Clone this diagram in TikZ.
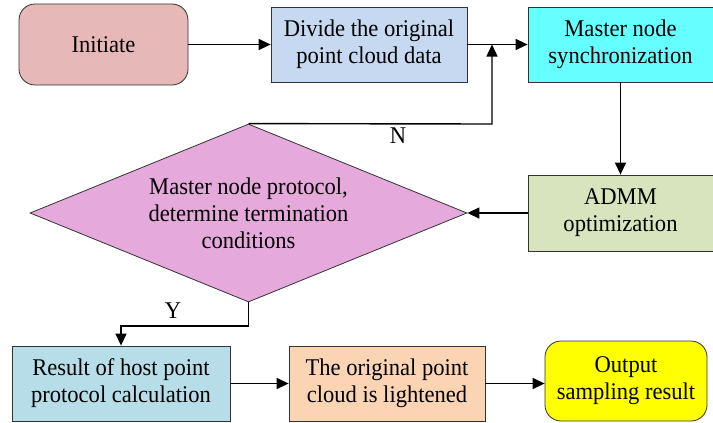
\documentclass[tikz,border=0pt]{standalone}
\usepackage{fontspec}
\setmainfont{Liberation Serif}
\newfontfamily\flowfont[FakeStretch=0.94]{Liberation Serif}
\usetikzlibrary{arrows.meta,shapes.geometric}
\definecolor{initc}{HTML}{E6B9B8}
\definecolor{divc}{HTML}{C6D9F0}
\definecolor{syncc}{HTML}{66FFFF}
\definecolor{admmc}{HTML}{D7E4BD}
\definecolor{diac}{HTML}{E6A9DC}
\definecolor{resc}{HTML}{B7DEE8}
\definecolor{orgc}{HTML}{FBD4B4}
\definecolor{outc}{HTML}{FFFF00}
\tikzset{
  box/.style={draw=black!80, line width=0.8pt, align=center, inner sep=2pt,
    font=\flowfont\fontsize{24}{27}\selectfont},
  roundbox/.style={box, rounded corners=16pt},
  flow/.style={line width=1.4pt, -{Triangle[length=12pt,width=11pt]}},
  lbl/.style={font=\flowfont\fontsize{24}{26}\selectfont}
}
\begin{document}
\begin{tikzpicture}[x=1pt,y=-1pt]
\useasboundingbox (0,0) rectangle (713,423);
% top row
\node[roundbox, fill=initc, minimum width=169pt, minimum height=81pt] (init) at (103.5,44.5) {Initiate};
\node[box, fill=divc, minimum width=196pt, minimum height=75pt] (div) at (369,44.5) {Divide the original\\point cloud data};
\node[box, fill=syncc, minimum width=185pt, minimum height=75pt] (sync) at (620.5,44.5) {Master node\\synchronization};
% decision and optimisation
\node[box, fill=admmc, minimum width=185pt, minimum height=76pt] (admm) at (620.5,213) {ADMM\\optimization};
\node[box, diamond, fill=diac, inner sep=0pt, aspect=2.455, minimum width=437pt, minimum height=178pt] (dec) at (248.5,213) {Master node protocol,\\determine termination\\conditions};
% bottom row
\node[box, fill=resc, minimum width=218pt, minimum height=75pt] (res) at (121,383.5) {Result of host point\\protocol calculation};
\node[box, fill=orgc, minimum width=196pt, minimum height=75pt] (org) at (387,383.5) {The original point\\cloud is lightened};
\node[roundbox, fill=outc, minimum width=162pt, minimum height=80pt] (out) at (626,381) {Output\\sampling result};
% connectors
\coordinate (join) at (492,44.5);
\draw[flow] (init) -- (div);
\draw[flow] (div) -- (sync);
\draw[flow] (sync) -- (admm);
\draw[flow] (admm) -- (dec.east);
\draw[flow] (dec.north) -- (492,124) -- (join);
\node[lbl] (nlab) at (398,136) {N};
\draw[flow] (dec.south) -- (248.5,326) -- (121,326) -- (res.north);
\node[lbl] (ylab) at (173,311) {Y};
\draw[flow] (res) -- (org);
\draw[flow] (org.east) -- (out.west |- org.east);
\end{tikzpicture}
\end{document}
